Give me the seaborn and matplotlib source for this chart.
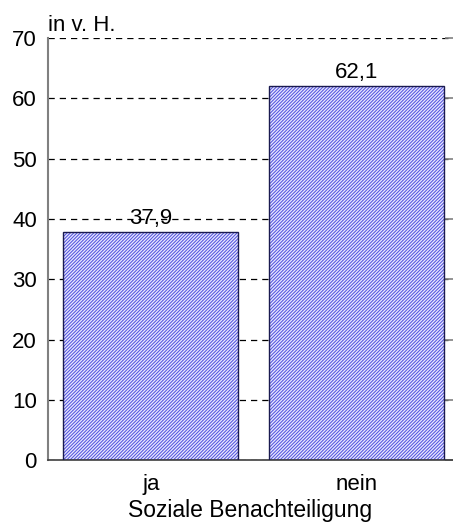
import matplotlib
matplotlib.use('Agg')
import matplotlib.pyplot as plt
import seaborn as sns

sns.set_style('white')
plt.rcParams['font.family'] = ['Liberation Sans', 'DejaVu Sans']
plt.rcParams['hatch.linewidth'] = 0.75
plt.rcParams['text.color'] = 'black'
plt.rcParams['axes.labelcolor'] = 'black'
plt.rcParams['xtick.color'] = 'black'
plt.rcParams['ytick.color'] = 'black'

# Daten
kategorien = ['ja', 'nein']
werte = [37.9, 62.1]
beschriftung = ['37,9', '62,1']
y_ticks = [0, 10, 20, 30, 40, 50, 60, 70]

fig = plt.figure(figsize=(4.53, 5.30), dpi=100)
ax = fig.add_axes([0.106, 0.132, 0.894, 0.796])

# Schraffierte Balken
sns.barplot(x=kategorien, y=werte, color='#e8e8fe', saturation=1, width=0.85,
            hatch='//////////', edgecolor='#5454e0', linewidth=0, ax=ax, zorder=2)
# Umrandung
sns.barplot(x=kategorien, y=werte, fill=False, width=0.85, color='#1a1a50',
            edgecolor='#1a1a50', linewidth=1.0, ax=ax, zorder=3)

for i, txt in enumerate(beschriftung):
    ax.text(i, werte[i] + 0.5, txt, ha='center', va='bottom', fontsize=16, zorder=4)

ax.set_ylim(0, 70)
ax.set_xlim(-0.5, 1.47)
ax.set_yticks(y_ticks)
ax.yaxis.grid(True, linestyle=(0, (5, 4)), color='black', linewidth=0.9, zorder=0)
ax.set_axisbelow(True)

ax.spines['top'].set_visible(False)
ax.spines['right'].set_visible(False)
ax.spines['left'].set_color('#808080')
ax.spines['left'].set_linewidth(1.5)
ax.spines['bottom'].set_color('#404040')
ax.spines['bottom'].set_linewidth(1.2)

ax.tick_params(axis='y', direction='in', length=6, width=1.2, color='#808080',
               right=True, labelsize=16, pad=8, labelcolor='black')
ax.tick_params(axis='x', length=0, labelsize=16, pad=10, labelcolor='black')

ax.set_xlabel('Soziale Benachteiligung', fontsize=16.5, labelpad=3)
ax.set_ylabel('')
ax.text(0, 1.006, 'in v. H.', transform=ax.transAxes, ha='left', va='bottom', fontsize=16)

plt.savefig('out.png', dpi=100)
